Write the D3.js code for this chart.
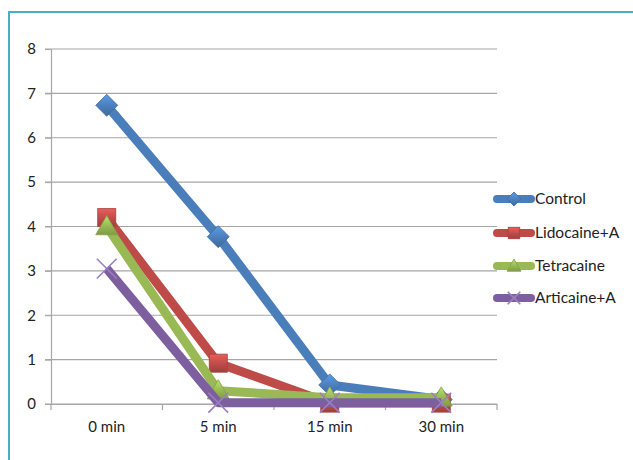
<!DOCTYPE html>
<html><head><meta charset="utf-8">
<script src="https://cdn.jsdelivr.net/npm/d3@7"></script>
<style>body{margin:0;background:#fff}svg{display:block}</style>
</head><body>
<svg id="c" width="633" height="460"></svg>
<script>
const categories = ["0 min", "5 min", "15 min", "30 min"];
const seriesNames = ["Control", "Lidocaine+A", "Tetracaine", "Articaine+A"];
const control = [6.73, 3.77, 0.43, 0.1];
const lidocaine = [4.2, 0.92, 0.02, 0.02];
const tetracaine = [4.0, 0.3, 0.14, 0.14];
const articaine = [3.05, 0.03, 0.03, 0.03];
const yTicks = [0, 1, 2, 3, 4, 5, 6, 7, 8];
const colors = ["#4a7ebb", "#be4b48", "#98b954", "#7d5fa0"];
const markerTypes = ["diamond", "square", "triangle", "x"];
const seriesValues = [control, lidocaine, tetracaine, articaine];

(function () {
const svg = d3.select("#c");
const font = "Lato, 'Open Sans', sans-serif";

svg.append("rect").attr("x", 9).attr("y", 12).attr("width", 700).attr("height", 500)
  .attr("fill", "none").attr("stroke", "#4bacc6").attr("stroke-width", 2);

const pL = 51, pR = 497, pT = 49, pB = 404;
const x = d3.scaleBand().domain(categories).range([pL, pR]);
const y = d3.scaleLinear().domain([0, 8]).range([pB, pT]);

svg.append("g").selectAll("line").data(yTicks).join("line")
  .attr("x1", pL - 6).attr("x2", pR)
  .attr("y1", d => y(d)).attr("y2", d => y(d))
  .attr("stroke", "#a6a6a6").attr("stroke-width", 1.2);

const yAxis = svg.append("g").attr("transform", `translate(${pL},0)`)
  .call(d3.axisLeft(y).tickValues(yTicks).tickSize(6).tickPadding(9));
yAxis.select(".domain").attr("stroke", "#a6a6a6").attr("stroke-width", 1.2);
yAxis.selectAll(".tick line").attr("stroke", "#a6a6a6");
yAxis.selectAll("text").attr("font-family", font).attr("font-size", 15).attr("fill", "#222");

const xAxis = svg.append("g").attr("transform", `translate(0,${pB})`)
  .call(d3.axisBottom(x).tickSize(0).tickPadding(17));
xAxis.select(".domain").attr("stroke", "#a6a6a6").attr("stroke-width", 1.2);
xAxis.selectAll("text").attr("font-family", font).attr("font-size", 15).attr("fill", "#222");
const bounds = [pL].concat(categories.map(c => x(c) + x.bandwidth()));
xAxis.selectAll(".btick").data(bounds).join("line").attr("class", "btick")
  .attr("x1", d => d).attr("x2", d => d).attr("y1", 0).attr("y2", 6)
  .attr("stroke", "#a6a6a6").attr("stroke-width", 1.2);

const defs = svg.append("defs");
colors.forEach((c, i) => {
  const g = defs.append("linearGradient").attr("id", "g" + i)
    .attr("x1", 0).attr("y1", 0).attr("x2", 0).attr("y2", 1);
  g.append("stop").attr("offset", "0%").attr("stop-color", d3.color(c).brighter(0.6));
  g.append("stop").attr("offset", "55%").attr("stop-color", c);
  g.append("stop").attr("offset", "100%").attr("stop-color", d3.color(c).darker(0.5));
});

function drawMarker(g, type, i, cx, cy, s) {
  if (type === "diamond") {
    g.append("path").attr("d", `M${cx},${cy - s}L${cx + s},${cy}L${cx},${cy + s}L${cx - s},${cy}Z`)
      .attr("fill", `url(#g${i})`).attr("stroke", d3.color(colors[i]).darker(0.4)).attr("stroke-width", 0.8);
  } else if (type === "square") {
    const h = s * 0.82;
    g.append("rect").attr("x", cx - h).attr("y", cy - h).attr("width", 2 * h).attr("height", 2 * h)
      .attr("fill", `url(#g${i})`).attr("stroke", d3.color(colors[i]).darker(0.4)).attr("stroke-width", 0.8);
  } else if (type === "triangle") {
    const h = s;
    g.append("path").attr("d", `M${cx},${cy - h}L${cx + h},${cy + h * 0.75}L${cx - h},${cy + h * 0.75}Z`)
      .attr("fill", `url(#g${i})`).attr("stroke", d3.color(colors[i]).darker(0.4)).attr("stroke-width", 0.8);
  } else {
    const h = s * 0.9;
    g.append("path").attr("d", `M${cx - h},${cy - h}L${cx + h},${cy + h}M${cx + h},${cy - h}L${cx - h},${cy + h}`)
      .attr("stroke", "#9a7fc0").attr("stroke-width", 1.6).attr("fill", "none");
  }
}

const line = d3.line().x((d, j) => x(categories[j]) + x.bandwidth() / 2).y(d => y(d));

seriesValues.forEach((vals, i) => {
  const g = svg.append("g");
  g.append("path").datum(vals).attr("d", line)
    .attr("fill", "none").attr("stroke", colors[i]).attr("stroke-width", 9)
    .attr("stroke-linejoin", "round");
  vals.forEach((v, j) => drawMarker(g, markerTypes[i], i, x(categories[j]) + x.bandwidth() / 2, y(v), 11));
});

const legY = [199, 233, 266, 298];
seriesNames.forEach((n, i) => {
  const g = svg.append("g");
  g.append("line").attr("x1", 497).attr("x2", 531).attr("y1", legY[i]).attr("y2", legY[i])
    .attr("stroke", colors[i]).attr("stroke-width", 8).attr("stroke-linecap", "round");
  drawMarker(g, markerTypes[i], i, 514, legY[i], 7);
  g.append("text").attr("x", 535).attr("y", legY[i]).attr("dy", "0.35em")
    .attr("font-family", font).attr("font-size", 15.5).attr("fill", "#222").text(n);
});
})();
</script>
</body></html>
